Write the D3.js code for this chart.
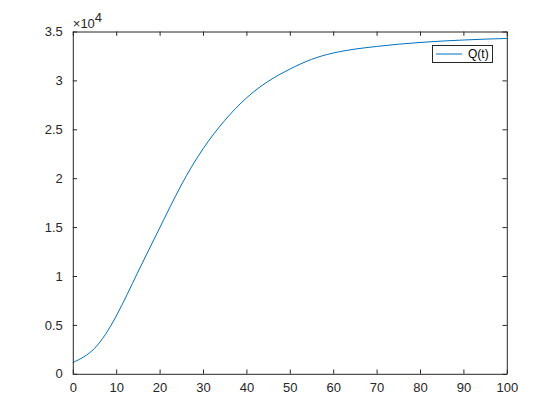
<!DOCTYPE html>
<html>
<head>
<meta charset="utf-8">
<script src="https://cdn.jsdelivr.net/npm/d3@7"></script>
<style>
  html, body { margin: 0; padding: 0; background: #ffffff; }
  svg { display: block; font-family: "Liberation Sans", Arial, Helvetica, sans-serif; }
</style>
</head>
<body>
<svg id="chart" width="560" height="420"></svg>
<script>
// Data
const tValues = [0, 5, 10, 15, 20, 25, 30, 35, 40, 45, 50, 55, 60, 65, 70, 75, 80, 85, 90, 95, 100];
const qValues = [1150, 2600, 5900, 10400, 14900, 19300, 23000, 25900, 28200, 29900, 31150, 32150, 32800, 33200, 33470, 33700, 33880, 34020, 34130, 34220, 34290];
const xTicks = [0, 10, 20, 30, 40, 50, 60, 70, 80, 90, 100];
const yTicks = [0, 5000, 10000, 15000, 20000, 25000, 30000, 35000];
const yTickLabels = ["0", "0.5", "1", "1.5", "2", "2.5", "3", "3.5"];
const seriesName = "Q(t)";

const mLeft = 72.8, mRight = 72.8 + 434, mTop = 31.5, mBottom = 373.8;
const axisColor = "#262626";
const lineColor = "#0072BD";
const tickLen = 4.3;

const svg = d3.select("#chart");
const x = d3.scaleLinear().domain([0, 100]).range([mLeft, mRight]);
const y = d3.scaleLinear().domain([0, 35000]).range([mBottom, mTop]);

const data = tValues.map((t, i) => ({ t, q: qValues[i] }));

// Curve
svg.append("path")
  .datum(data)
  .attr("fill", "none")
  .attr("stroke", lineColor)
  .attr("stroke-width", 1)
  .attr("d", d3.line().x(d => x(d.t)).y(d => y(d.q)).curve(d3.curveNatural));

// Axes (ticks inside)
const fmtY = d => yTickLabels[yTicks.indexOf(d)];
const xAxisB = d3.axisBottom(x).tickValues(xTicks).tickSizeInner(-tickLen).tickSizeOuter(0).tickPadding(9);
const xAxisT = d3.axisTop(x).tickValues(xTicks).tickSizeInner(-tickLen).tickSizeOuter(0).tickFormat("");
const yAxisL = d3.axisLeft(y).tickValues(yTicks).tickSizeInner(-tickLen).tickSizeOuter(0).tickPadding(10).tickFormat(fmtY);
const yAxisR = d3.axisRight(y).tickValues(yTicks).tickSizeInner(-tickLen).tickSizeOuter(0).tickFormat("");

function style(g) {
  g.select(".domain").attr("stroke", axisColor).attr("stroke-width", 1);
  g.selectAll(".tick line").attr("stroke", axisColor).attr("stroke-width", 1);
  g.selectAll(".tick text").attr("fill", axisColor).style("font-size", "13px")
    .style("font-family", "'Liberation Sans', Arial, Helvetica, sans-serif");
}

svg.append("g").attr("transform", `translate(0,${mBottom})`).call(xAxisB).call(style);
svg.append("g").attr("transform", `translate(0,${mTop})`).call(xAxisT).call(style);
svg.append("g").attr("transform", `translate(${mLeft},0)`).call(yAxisL).call(style);
svg.append("g").attr("transform", `translate(${mRight},0)`).call(yAxisR).call(style);

// Exponent label
const exp = svg.append("text")
  .attr("x", mLeft).attr("y", 28)
  .attr("fill", axisColor)
  .style("font-size", "13px");
exp.append("tspan").text("\u00d710");
exp.append("tspan").attr("dy", -6).style("font-size", "13px").text("4");

// Legend
const lg = svg.append("g");
lg.append("rect")
  .attr("x", 432.5).attr("y", 45.5).attr("width", 60).attr("height", 17)
  .attr("fill", "#ffffff").attr("stroke", axisColor).attr("stroke-width", 1);
lg.append("line")
  .attr("x1", 436).attr("x2", 462).attr("y1", 54).attr("y2", 54)
  .attr("stroke", lineColor).attr("stroke-width", 1);
lg.append("text")
  .attr("x", 468).attr("y", 54).attr("dy", "0.35em")
  .attr("fill", "#000000").style("font-size", "12px")
  .text(seriesName);
</script>
</body>
</html>
